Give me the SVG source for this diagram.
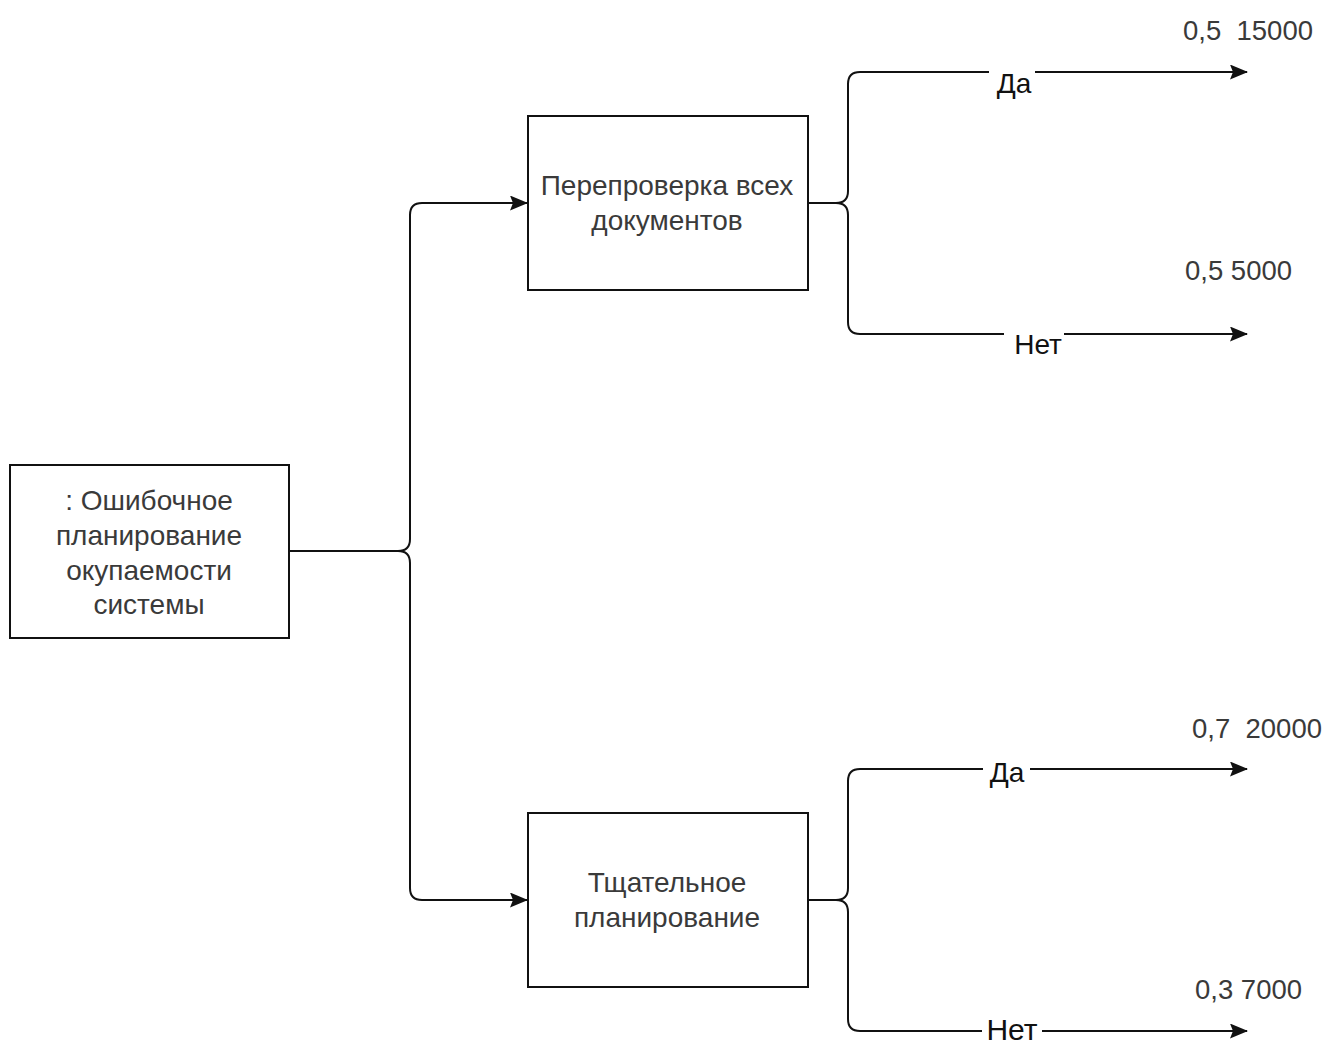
<svg xmlns="http://www.w3.org/2000/svg" width="1329" height="1044" viewBox="0 0 1329 1044">
<defs>
<style>
.box{fill:#fff;stroke:#111;stroke-width:2}
.ln{fill:none;stroke:#111;stroke-width:2}
.t{font-family:"Liberation Sans",Arial,sans-serif;font-size:28px;fill:#3a3a3a;text-anchor:middle}
.n{font-family:"Liberation Sans",Arial,sans-serif;font-size:27.5px;fill:#3a3a3a}
.lb{font-family:"Liberation Sans",Arial,sans-serif;font-size:28px;fill:#111;text-anchor:middle}
</style>
<marker id="ah" viewBox="0 0 18 15" refX="17" refY="7.5" markerWidth="18" markerHeight="15" markerUnits="userSpaceOnUse" orient="auto">
<path d="M0,0 L18,7.5 L0,15 L3,7.5 Z" fill="#111"/>
</marker>
</defs>
<rect width="1329" height="1044" fill="#fff"/>
<g id="connectors">
<path class="ln" d="M289,551 H398 Q410,551 410,539 V215 Q410,203 422,203 H527" marker-end="url(#ah)"/>
<path class="ln" d="M289,551 H398 Q410,551 410,563 V888 Q410,900 422,900 H527" marker-end="url(#ah)"/>
<path class="ln" d="M808,203 H836 Q848,203 848,191 V84 Q848,72 860,72 H1247" marker-end="url(#ah)"/>
<path class="ln" d="M808,203 H836 Q848,203 848,215 V322 Q848,334 860,334 H1247" marker-end="url(#ah)"/>
<path class="ln" d="M808,900 H836 Q848,900 848,888 V781 Q848,769 860,769 H1247" marker-end="url(#ah)"/>
<path class="ln" d="M808,900 H836 Q848,900 848,912 V1019 Q848,1031 860,1031 H1247" marker-end="url(#ah)"/>
<rect x="989" y="62" width="46" height="36" fill="#fff"/>
<text class="lb" x="1014" y="93">Да</text>
<rect x="1004" y="324" width="60" height="36" fill="#fff"/>
<text class="lb" x="1038" y="354">Нет</text>
<rect x="983" y="755" width="47" height="34" fill="#fff"/>
<text class="lb" x="1007" y="782">Да</text>
<rect x="982" y="1015" width="60" height="29" fill="#fff"/>
<text class="lb" x="1012" y="1040" style="font-size:30px">Нет</text>
</g>
<g id="node-root">
<rect class="box" x="10" y="465" width="279" height="173"/>
<text class="t" x="149" y="510">: Ошибочное</text>
<text class="t" x="149" y="545">планирование</text>
<text class="t" x="149" y="580">окупаемости</text>
<text class="t" x="149" y="614">системы</text>
</g>
<g id="node-recheck">
<rect class="box" x="528" y="116" width="280" height="174"/>
<text class="t" x="667" y="195">Перепроверка всех</text>
<text class="t" x="667" y="230">документов</text>
</g>
<g id="node-planning">
<rect class="box" x="528" y="813" width="280" height="174"/>
<text class="t" x="667" y="892">Тщательное</text>
<text class="t" x="667" y="927">планирование</text>
</g>
<g id="outcomes">
<text class="n" x="1183" y="40" xml:space="preserve">0,5  15000</text>
<text class="n" x="1185" y="280">0,5 5000</text>
<text class="n" x="1192" y="738" xml:space="preserve">0,7  20000</text>
<text class="n" x="1195" y="999">0,3 7000</text>
</g>
</svg>
